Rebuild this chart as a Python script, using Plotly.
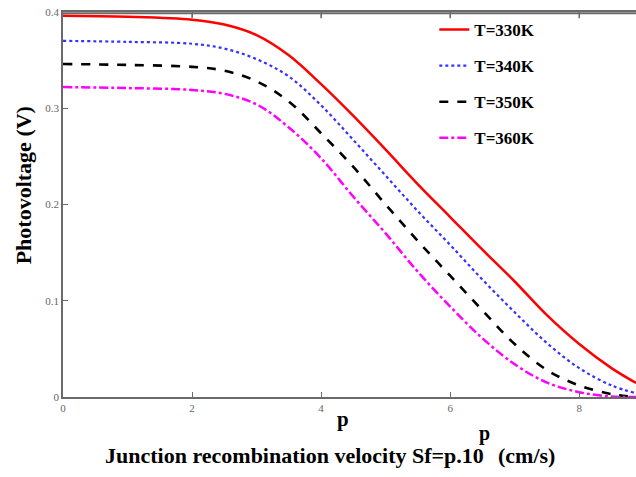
import plotly.graph_objects as go

# Data
p_grid = [0, 1.0, 2.0, 2.5, 3.0, 3.5, 4.0, 4.5, 5.0, 5.5, 6.0, 6.5, 7.0, 7.5, 8.0, 8.5, 8.88]
v_330 = [0.396, 0.395, 0.392, 0.387, 0.376, 0.355, 0.325, 0.292, 0.257, 0.221, 0.187, 0.153, 0.120, 0.085, 0.055, 0.030, 0.0146]
v_340 = [0.370, 0.369, 0.367, 0.362, 0.351, 0.333, 0.303, 0.267, 0.230, 0.193, 0.158, 0.122, 0.088, 0.056, 0.030, 0.012, 0.004]
v_350 = [0.346, 0.345, 0.343, 0.339, 0.328, 0.307, 0.274, 0.239, 0.200, 0.162, 0.126, 0.090, 0.055, 0.028, 0.012, 0.003, 0.0]
v_360 = [0.322, 0.321, 0.319, 0.315, 0.304, 0.280, 0.248, 0.208, 0.170, 0.130, 0.094, 0.061, 0.034, 0.015, 0.005, 0.0005, 0.0]

names = ["T=330K", "T=340K", "T=350K", "T=360K"]
ys = [v_330, v_340, v_350, v_360]
colors = ["#ff0000", "#3333ff", "#000000", "#ff00ff"]
dashes = ["solid", "dot", "dash", "dashdot"]
widths = [2.5, 2.2, 2.6, 2.5]

x_ticks = [0, 2, 4, 6, 8]
y_ticks = [0, 0.1, 0.2, 0.3, 0.4]
y_tick_text = ["0", "0.1", "0.2", "0.3", "0.4"]

fig = go.Figure()
for i in range(4):
    fig.add_trace(go.Scatter(
        x=p_grid, y=ys[i], mode="lines", name=names[i],
        legendgroup=names[i],
        line=dict(color=colors[i], dash=dashes[i], width=widths[i], shape="spline", smoothing=1.0),
    ))

serif = "Liberation Serif"
axis_col = "#6a6a6a"

fig.update_layout(
    width=636, height=477,
    margin=dict(l=63, r=0, t=12, b=80),
    paper_bgcolor="white", plot_bgcolor="white",
    showlegend=True,
    legend=dict(
        x=0.648, y=1.0, xanchor="left", yanchor="top",
        bgcolor="rgba(0,0,0,0)", borderwidth=0,
        font=dict(family=serif, size=17, color="black", weight="bold"),
        tracegroupgap=11,
    ),
    xaxis=dict(
        range=[0, 8.88], tickvals=x_ticks, ticktext=[str(t) for t in x_ticks],
        showgrid=False, zeroline=False, showline=True, linecolor=axis_col, linewidth=1.5,
        mirror="ticks", ticks="inside", ticklen=5, tickcolor=axis_col,
        tickfont=dict(family=serif, size=11, color="#666666"),
    ),
    yaxis=dict(
        range=[0, 0.4], tickvals=y_ticks, ticktext=y_tick_text,
        showgrid=False, zeroline=False, showline=True, linecolor=axis_col, linewidth=1.5,
        ticks="inside", ticklen=5, tickcolor=axis_col,
        tickfont=dict(family=serif, size=11, color="#666666"),
    ),
)

# top frame line with inward ticks at the x tick positions
fig.add_shape(type="line", xref="paper", yref="paper", x0=0, x1=1, y0=0.997, y1=0.997,
              line=dict(color=axis_col, width=2), layer="above")
for t in x_ticks[1:]:
    fig.add_shape(type="line", xref="x", yref="paper", x0=t, x1=t, y0=0.997, y1=0.997 - 5 / 385,
                  line=dict(color=axis_col, width=1.5), layer="above")

fig.add_annotation(text="Photovoltage (V)", xref="paper", yref="paper",
                   x=-0.095, y=0.55, textangle=-90, showarrow=False,
                   font=dict(family=serif, size=22, color="black", weight="bold"))
fig.add_annotation(text="p", xref="paper", yref="paper",
                   x=0.489, y=-0.094, showarrow=False,
                   font=dict(family=serif, size=21, color="black", weight="bold"))
fig.add_annotation(text="Junction recombination velocity Sf=p.10", xref="paper", yref="paper",
                   x=0.7365, y=-0.187, xanchor="right", showarrow=False, borderpad=0,
                   font=dict(family=serif, size=22, color="black", weight="bold"))
fig.add_annotation(text="(cm/s)", xref="paper", yref="paper",
                   x=0.7574, y=-0.187, xanchor="left", showarrow=False, borderpad=0,
                   font=dict(family=serif, size=22, color="black", weight="bold"))
fig.add_annotation(text="p", xref="paper", yref="paper",
                   x=0.747, y=-0.128, showarrow=False, borderpad=0,
                   font=dict(family=serif, size=20, color="black", weight="bold"))

fig.write_html("out.html")
